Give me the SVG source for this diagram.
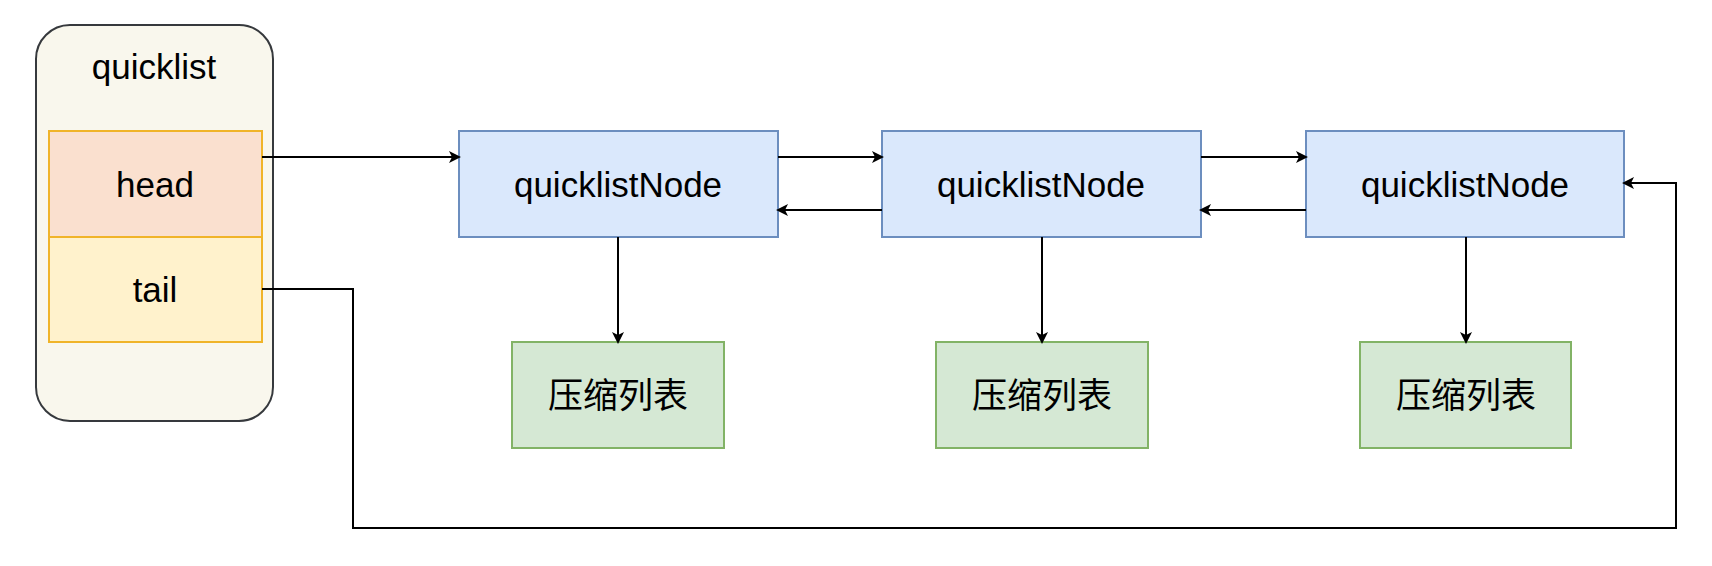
<svg xmlns="http://www.w3.org/2000/svg" width="1712" height="566" viewBox="0 0 1712 566">
<style>
text{font-family:"Liberation Sans","Noto Sans CJK SC",sans-serif;font-size:35px;fill:#000;text-anchor:middle;dominant-baseline:central}
.blue{fill:#dae8fc;stroke:#6c8ebf;stroke-width:2}
.green{fill:#d5e8d4;stroke:#82b366;stroke-width:2}
.c{fill:none;stroke:#000;stroke-width:2;marker-end:url(#a)}
</style>
<defs><marker id="a" markerWidth="12" markerHeight="12" refX="10" refY="6" orient="auto" markerUnits="userSpaceOnUse"><path d="M0,0 L12,6 L0,12 L3,6 Z" fill="#000"/></marker></defs>
<rect width="1712" height="566" fill="#fff"/>
<g id="quicklist">
<rect x="36" y="25" width="237" height="396" rx="34" fill="#f9f7ed" stroke="#36393d" stroke-width="2"/>
<text x="154" y="66">quicklist</text>
</g>
<g id="head"><rect x="49" y="131" width="213" height="106" fill="#fae0cf" stroke="#f0b429" stroke-width="2"/><text x="155" y="184">head</text></g>
<g id="tail"><rect x="49" y="237" width="213" height="105" fill="#fff2cc" stroke="#f0b429" stroke-width="2"/><text x="155" y="289">tail</text></g>
<g id="n1"><rect class="blue" x="459" y="131" width="319" height="106"/><text x="618" y="184">quicklistNode</text></g>
<g id="n2"><rect class="blue" x="882" y="131" width="319" height="106"/><text x="1041" y="184">quicklistNode</text></g>
<g id="n3"><rect class="blue" x="1306" y="131" width="318" height="106"/><text x="1465" y="184">quicklistNode</text></g>
<g id="z1"><rect class="green" x="512" y="342" width="212" height="106"/><text x="618" y="395">压缩列表</text></g>
<g id="z2"><rect class="green" x="936" y="342" width="212" height="106"/><text x="1042" y="395">压缩列表</text></g>
<g id="z3"><rect class="green" x="1360" y="342" width="211" height="106"/><text x="1466" y="395">压缩列表</text></g>
<g id="connectors">
<path class="c" d="M262,157 H459"/>
<path class="c" d="M778,157 H882"/>
<path class="c" d="M1201,157 H1306"/>
<path class="c" d="M882,210 H778"/>
<path class="c" d="M1306,210 H1201"/>
<path class="c" d="M618,237 V342"/>
<path class="c" d="M1042,237 V342"/>
<path class="c" d="M1466,237 V342"/>
<path class="c" d="M262,289 H353 V528 H1676 V183 H1624"/>
</g>
</svg>
